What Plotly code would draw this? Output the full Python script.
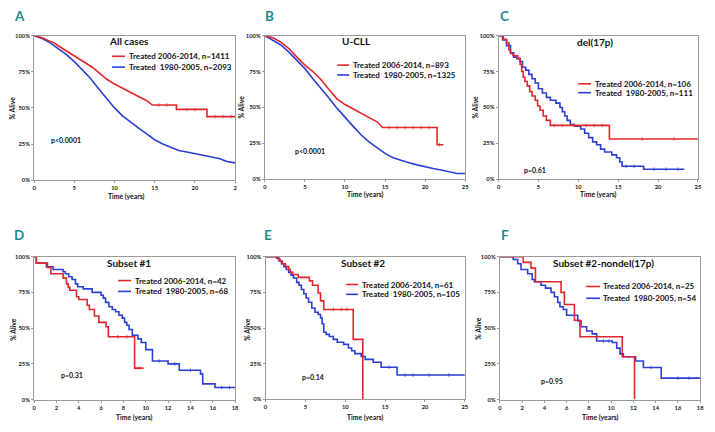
import plotly.graph_objects as go

W, H = 715, 432
OFF = 8  # browser default body margin; positions are compensated for it
RED = "#e3262c"
BLUE = "#2b3fd6"
TEAL = "#1d8c8c"
FRAME = "#9a9a9a"
FONT = "Lato"

# ---------------- data (time in years, survival in %) ----------------
# Panel A: All cases
a_red_t = [0, 1, 2, 2.5, 3, 4, 5, 6, 7, 7.5, 8, 9, 10, 11, 12, 12.5, 13, 14, 14.7, 17.7, 17.7, 21.5, 21.5, 25]
a_red_s = [100, 98.5, 96, 95, 93, 89.5, 86, 83, 79, 77, 74.5, 70, 66.5, 63.5, 61, 59.5, 58, 55, 52, 52, 49, 49, 44, 44]
a_blue_t = [0, 1, 2, 3, 4, 5, 6, 7, 8, 9, 10, 11, 12, 13, 14, 15, 16, 17, 18, 19, 20, 21, 22, 23, 24, 25]
a_blue_s = [100, 98, 95, 91, 87, 82, 76.5, 70.5, 63.5, 56.5, 50, 44.5, 40, 36, 32, 28, 25, 22.5, 20.5, 19.5, 18.5, 17.5, 16.5, 15, 13, 12]
a_red_cens = [15.5, 16.5, 19, 20, 22.5, 23.5, 24.5]
a_blue_cens = []

# Panel B: U-CLL
b_red_t = [0, 1, 2, 3, 4, 5, 6, 7, 8, 9, 10, 11, 12, 13, 14, 14.7, 21.5, 21.5, 22.3]
b_red_s = [100, 98.5, 95.5, 91, 85, 79.5, 75, 69.5, 62.5, 56, 52, 49, 46.5, 43, 40, 36, 36, 24, 24]
b_blue_t = [0, 1, 2, 3, 4, 5, 6, 7, 8, 9, 10, 11, 12, 13, 14, 15, 16, 17, 18, 19, 20, 21, 22, 23, 24, 25]
b_blue_s = [100, 97, 93.5, 88.5, 83, 77, 70, 63.5, 56.5, 49.5, 43, 37, 31, 26, 22, 18, 15, 13, 11.5, 10, 8.5, 7.5, 6.5, 5, 4, 4]
b_red_cens = [15.5, 16.5, 17.5, 18.5, 19.5, 20.5, 21.8]
b_blue_cens = []

# Panel C: del(17p)
c_red_t = [0, 0.6, 1.0, 1.3, 1.5, 1.8, 2.4, 2.7, 2.9, 3.1, 3.3, 3.6, 3.9, 4.2, 4.6, 4.9, 5.2, 5.6, 6.0, 6.5, 13.9, 25]
c_red_s = [100, 97.5, 95, 90, 87.5, 86, 84, 80, 75, 71, 68, 65, 61, 58, 55, 51, 48, 44, 41, 37.5, 28, 28]
c_blue_t = [0, 0.5, 1.0, 1.5, 1.9, 2.3, 2.7, 3.0, 3.4, 3.8, 4.2, 4.6, 5.0, 5.5, 6.0, 6.5, 7.2, 7.7, 8.0, 8.3, 8.6, 9.0, 9.5,
            10.3, 10.8, 11.3, 11.8, 12.3, 12.8, 13.3, 14.2, 14.8, 15.2, 15.5, 18.2, 23.3]
c_blue_s = [100, 97, 93, 88, 85, 84, 82, 78, 76, 73, 70, 67, 63, 60, 57, 55, 53, 50, 47, 44, 41, 38, 37,
            35, 32, 29, 26, 24, 21, 19, 17, 15, 12, 9, 7, 7]
c_red_cens = [7, 8, 9.5, 11, 12, 13, 18, 22]
c_blue_cens = [16, 17, 19.5, 21, 22.5]

# Panel D: Subset #1
d_red_t = [0, 0.2, 1.2, 1.5, 2.6, 2.9, 3.05, 3.2, 3.8, 4.0, 4.75, 4.95, 5.4, 5.8, 6.45, 6.65, 9.0, 9.8]
d_red_s = [100, 95.5, 92.5, 88, 85, 81, 78.5, 76.5, 72, 70, 66, 63, 58.5, 54, 51, 44, 22, 22]
d_blue_t = [0, 0.2, 1.1, 1.7, 2.6, 2.8, 3.1, 3.4, 3.7, 3.9, 4.4, 5.2, 6.0, 6.2, 6.4, 6.7, 7.0, 7.3, 7.6, 7.9,
            8.1, 8.3, 8.5, 8.8, 9.3, 9.6, 10.0, 10.6, 12.0, 13.0, 14.9, 15.1, 16.2, 18]
d_blue_s = [100, 95.5, 93, 91, 89.5, 88, 86, 84, 81, 79, 77.5, 75, 73, 71, 68, 65, 63, 61.5, 59, 57,
            54, 52, 49, 45, 42.5, 40, 35, 27, 25, 20.5, 18, 11, 8.5, 8.5]
d_red_cens = [7.5, 8.3, 9.4]
d_blue_cens = [11.2, 12.6, 14, 16.8, 17.5]

# Panel E: Subset #2
e_red_t = [0, 1.5, 1.8, 2.1, 2.5, 2.9, 3.1, 3.4, 4.1, 5.5, 5.9, 6.6, 6.9, 7.3, 11.0, 12.2]
e_red_s = [100, 98.5, 97, 95, 93, 91, 89, 87.5, 85.5, 83, 80, 74.5, 69, 63, 42, 0]
e_blue_t = [0, 1.4, 1.7, 2.0, 2.3, 2.6, 2.9, 3.2, 3.5, 3.9, 4.2, 4.5, 4.8, 5.1, 5.4, 5.8, 6.2, 6.6, 6.9, 7.1,
            7.3, 7.6, 8.0, 8.5, 9.0, 9.8, 10.4, 10.8, 11.2, 12.0, 12.5, 13.5, 14.5, 16.5, 25]
e_blue_s = [100, 99, 97, 95, 93, 91, 89, 87, 85, 82, 80, 77, 74, 71, 68, 64, 61, 59.5, 57, 53,
            47, 45.5, 44, 42, 40, 38.5, 36, 34, 32, 30, 28, 26, 22.5, 17, 17]
e_red_cens = [8.5, 9.5, 10.2]
e_blue_cens = [15.5, 17.5, 18.5, 20.5, 23]

# Panel F: Subset #2-nondel(17p)
f_red_t = [0, 2.1, 2.8, 3.2, 5.5, 5.8, 6.7, 7.2, 11.0, 12.1]
f_red_s = [100, 96, 92, 82.5, 75, 66.5, 55.5, 44, 30, 0]
f_blue_t = [0, 1.2, 1.6, 1.9, 2.5, 2.9, 3.1, 3.7, 4.1, 4.6, 4.9, 5.2, 5.4, 5.7, 6.0, 7.0, 7.3, 7.8, 8.3, 8.7,
            10.1, 10.5, 10.8, 11.1, 12.2, 12.9, 14.5, 18]
f_blue_s = [100, 98, 95, 91, 88, 84, 82.5, 80, 78, 75, 72, 68, 65, 63, 59, 55, 51, 48, 46, 41,
            40, 36, 32, 30, 27, 22.5, 15, 15]
f_red_cens = []
f_blue_cens = [9.3, 9.8, 13.6, 16, 17]

# ---------------- text ----------------
letters = ["A", "B", "C", "D", "E", "F"]
titles = ["All cases", "U-CLL", "del(17p)", "Subset #1", "Subset #2", "Subset #2-nondel(17p)"]
red_labels = ["Treated 2006-2014, n=1411", "Treated 2006-2014, n=893", "Treated 2006-2014, n=106",
              "Treated 2006-2014, n=42", "Treated 2006-2014, n=61", "Treated 2006-2014, n=25"]
blue_labels = ["Treated\u00a0 1980-2005, n=2093", "Treated\u00a0 1980-2005, n=1325", "Treated\u00a0 1980-2005, n=111",
               "Treated\u00a0 1980-2005, n=68", "Treated\u00a0 1980-2005, n=105", "Treated\u00a0 1980-2005, n=54"]
pvalues = ["p<0.0001", "p<0.0001", "p=0.61", "p=0.31", "p=0.14", "p=0.95"]
y_ticks = [0, 25, 50, 75, 100]
y_ticktext = ["0%", "25%", "50%", "75%", "100%"]
x_ticks_25 = [0, 5, 10, 15, 20, 25]
x_ticktext_a = ["0", "5", "10", "15", "20", "2"]
x_ticktext_25 = ["0", "5", "10", "15", "20", "25"]
x_ticks_18 = [0, 2, 4, 6, 8, 10, 12, 14, 16, 18]
x_ticktext_18 = [str(v) for v in x_ticks_18]

series = [
    (a_red_t, a_red_s, a_red_cens, a_blue_t, a_blue_s, a_blue_cens, "linear"),
    (b_red_t, b_red_s, b_red_cens, b_blue_t, b_blue_s, b_blue_cens, "linear"),
    (c_red_t, c_red_s, c_red_cens, c_blue_t, c_blue_s, c_blue_cens, "hv"),
    (d_red_t, d_red_s, d_red_cens, d_blue_t, d_blue_s, d_blue_cens, "hv"),
    (e_red_t, e_red_s, e_red_cens, e_blue_t, e_blue_s, e_blue_cens, "hv"),
    (f_red_t, f_red_s, f_red_cens, f_blue_t, f_blue_s, f_blue_cens, "hv"),
]

# ---------------- layout (pixel geometry, screen coords) ----------------
boxes = [(32.3, 235, 32, 179), (265, 467, 32, 178), (500.7, 701.7, 32, 178),
         (32.3, 235, 256.7, 402), (265.7, 466.7, 256.7, 401.7), (502, 704, 256.7, 402)]
xmaxes = [25, 25, 25, 18, 25, 18]
xtickv = [x_ticks_25, x_ticks_25, x_ticks_25, x_ticks_18, x_ticks_25, x_ticks_18]
xtickt = [x_ticktext_a, x_ticktext_25, x_ticktext_25, x_ticktext_18, x_ticktext_25, x_ticktext_18]
letter_pos = [(17.5, 12), (270, 12), (507, 12), (17, 235), (268, 235), (507, 235)]
title_pos = [(128, 37), (357, 37), (598, 39), (128, 263), (364, 263), (607, 263)]
legend_pos = [(111, 124, 127, 53, 64), (338, 350, 353, 62, 72), (581, 594, 597, 81, 90),
              (117, 130, 133, 281, 292), (347, 359, 362, 285, 295), (589, 603, 605, 287, 299)]
p_pos = [(64, 138), (311, 149), (537, 169), (71, 377), (314, 379), (555, 383)]
ylab_pos = [(10, 105), (241, 105), (477, 105), (11, 330), (247, 330), (480, 330)]
xlab_pos = [(125, 196), (366, 194), (601, 194), (133, 420), (366, 420), (603, 420)]


def px(x):
    return (x - OFF) / W


def py(y):
    return 1 - (y - OFF) / H


def step_value(ts, ss, t):
    v = ss[0]
    for ti, si in zip(ts, ss):
        if ti <= t:
            v = si
    return v


fig = go.Figure()
annotations = []
shapes = []

for i in range(6):
    n = "" if i == 0 else str(i + 1)
    xa, ya = "x" + n, "y" + n
    rt, rs, rc, bt, bs, bc, shape = series[i]
    fig.add_trace(go.Scatter(x=bt, y=bs, mode="lines", line=dict(color=BLUE, width=1.6, shape=shape),
                             xaxis=xa, yaxis=ya, showlegend=False, hoverinfo="skip"))
    fig.add_trace(go.Scatter(x=rt, y=rs, mode="lines", line=dict(color=RED, width=1.6, shape=shape),
                             xaxis=xa, yaxis=ya, showlegend=False, hoverinfo="skip"))
    for cens, ts, ss, col in ((bc, bt, bs, BLUE), (rc, rt, rs, RED)):
        if cens:
            fig.add_trace(go.Scatter(x=cens, y=[step_value(ts, ss, c) for c in cens], mode="markers",
                                     marker=dict(symbol="line-ns", size=2.5, line=dict(color=col, width=0.8)),
                                     xaxis=xa, yaxis=ya, showlegend=False, hoverinfo="skip"))

    l, r, t, b = boxes[i]
    common = dict(showline=True, mirror=True, linecolor=FRAME, linewidth=1, ticks="outside", ticklen=2,
                  tickcolor=FRAME, showgrid=False, zeroline=False, fixedrange=True,
                  tickfont=dict(family=FONT, size=5.8, color="#222", weight="bold"))
    fig.update_layout(**{
        "xaxis" + n: dict(domain=[px(l), px(r)], range=[0, xmaxes[i]], anchor=ya,
                          tickvals=xtickv[i], ticktext=xtickt[i], **common),
        "yaxis" + n: dict(domain=[py(b), py(t)], range=[0, 100], anchor=xa,
                          tickvals=y_ticks, ticktext=y_ticktext, **common),
    })

    lx, ly = letter_pos[i]
    annotations.append(dict(x=px(lx), y=py(ly), xref="paper", yref="paper", text=letters[i], showarrow=False,
                            font=dict(family=FONT, size=13.5, color=TEAL, weight="bold"),
                            xanchor="center", yanchor="middle"))
    tx, ty = title_pos[i]
    annotations.append(dict(x=px(tx), y=py(ty), xref="paper", yref="paper", text=titles[i], showarrow=False,
                            font=dict(family=FONT, size=10, color="#111", weight="bold"),
                            xanchor="center", yanchor="middle"))
    x0, x1, tx2, ry, by = legend_pos[i]
    for yy, col, lab in ((ry, RED, red_labels[i]), (by, BLUE, blue_labels[i])):
        shapes.append(dict(type="line", xref="paper", yref="paper", x0=px(x0), x1=px(x1), y0=py(yy), y1=py(yy),
                           line=dict(color=col, width=1.6)))
        annotations.append(dict(x=px(tx2 - 1), y=py(yy), xref="paper", yref="paper", text=lab, showarrow=False,
                                font=dict(family=FONT, size=8, color="#111", weight="bold"),
                                xanchor="left", yanchor="middle"))
    ppx, ppy = p_pos[i]
    annotations.append(dict(x=px(ppx), y=py(ppy), xref="paper", yref="paper", text=pvalues[i], showarrow=False,
                            font=dict(family=FONT, size=7, color="#111", weight="bold"),
                            xanchor="center", yanchor="middle"))
    yx, yy2 = ylab_pos[i]
    annotations.append(dict(x=px(yx), y=py(yy2), xref="paper", yref="paper", text="% Alive", showarrow=False,
                            textangle=-90, font=dict(family=FONT, size=6.8, color="#111", weight="bold"),
                            xanchor="center", yanchor="middle"))
    xx, xy = xlab_pos[i]
    annotations.append(dict(x=px(xx), y=py(xy), xref="paper", yref="paper", text="Time (years)", showarrow=False,
                            font=dict(family=FONT, size=6.8, color="#111", weight="bold"),
                            xanchor="center", yanchor="middle"))

fig.update_layout(width=W, height=H, autosize=False, margin=dict(l=0, r=0, t=0, b=0),
                  paper_bgcolor="white", plot_bgcolor="white", annotations=annotations, shapes=shapes,
                  showlegend=False)

fig.write_html("out.html", config={"displayModeBar": False})
